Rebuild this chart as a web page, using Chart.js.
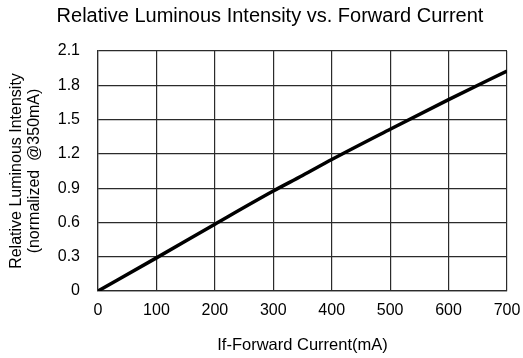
<!DOCTYPE html>
<html>
<head>
<meta charset="utf-8">
<script src="https://cdn.jsdelivr.net/npm/chart.js@4/dist/chart.umd.min.js"></script>
<style>
  html, body { margin: 0; padding: 0; background: #fff; }
  #wrap { width: 523px; height: 358px; }
</style>
</head>
<body>
<div id="wrap"><canvas id="ivChart" width="523" height="358"></canvas></div>
<script>
// values
var currentMA = [0, 100, 200, 300, 350, 400, 500, 600, 700];
var relIntensity = [0, 0.29, 0.585, 0.875, 1.01, 1.15, 1.415, 1.675, 1.925];
var yTicks = [0, 0.3, 0.6, 0.9, 1.2, 1.5, 1.8, 2.1];
var xTicks = [0, 100, 200, 300, 400, 500, 600, 700];

var points = [];
for (let i = 0; i < currentMA.length; i++) {
    points.push({ x: currentMA[i], y: relIntensity[i] });
}

var fontFam = '"Liberation Sans", Arial, Helvetica, sans-serif';
var gridCol = '#2b2b2b';

const ctx = document.getElementById('ivChart').getContext('2d');
const ivChart = new Chart(ctx, {
    type: 'line',
    data: {
        datasets: [{
            data: points,
            borderColor: '#000',
            borderWidth: 3.5,
            pointRadius: 0,
            cubicInterpolationMode: 'monotone',
            fill: false
        }]
    },
    options: {
        responsive: false,
        animation: false,
        layout: { padding: { left: 20, right: 3, top: 0, bottom: 0 } },
        plugins: {
            legend: { display: false },
            tooltip: { enabled: false },
            title: {
                display: true,
                text: 'Relative Luminous Intensity vs. Forward Current',
                color: '#000',
                font: { family: fontFam, size: 20, weight: 'normal' },
                padding: { top: 4, bottom: 23 }
            }
        },
        scales: {
            x: {
                type: 'linear',
                min: 0,
                max: 700,
                afterBuildTicks: function (scale) {
                    scale.ticks = xTicks.map(v => ({ value: v }));
                },
                afterFit: function (scale) {
                    scale.height = 67;
                    scale.paddingRight = 16;
                },
                ticks: {
                    color: '#000',
                    padding: 10,
                    maxRotation: 0,
                    font: { family: fontFam, size: 16 }
                },
                grid: { color: gridCol, lineWidth: 1.2, drawTicks: false },
                border: { color: gridCol, width: 1.2 },
                title: {
                    display: true,
                    text: 'If-Forward Current(mA)',
                    color: '#000',
                    font: { family: fontFam, size: 16.5 },
                    padding: { top: 0, bottom: 3 }
                }
            },
            y: {
                type: 'linear',
                min: 0,
                max: 2.1,
                afterBuildTicks: function (scale) {
                    scale.ticks = yTicks.map(v => ({ value: v }));
                },
                afterFit: function (scale) {
                    scale.width = 78;
                },
                ticks: {
                    color: '#000',
                    padding: 18,
                    font: { family: fontFam, size: 16 },
                    callback: function (v) { return v === 0 ? '0' : v.toFixed(1); }
                },
                grid: { color: gridCol, lineWidth: 1.2, drawTicks: false },
                border: { color: gridCol, width: 1.2 },
                title: {
                    display: true,
                    text: ['Relative Luminous Intensity', '(normalized  @350mA)'],
                    color: '#000',
                    font: { family: fontFam, size: 16, lineHeight: 1.15 },
                    padding: { top: -12.7, bottom: 0 }
                }
            }
        }
    }
});
</script>
</body>
</html>
